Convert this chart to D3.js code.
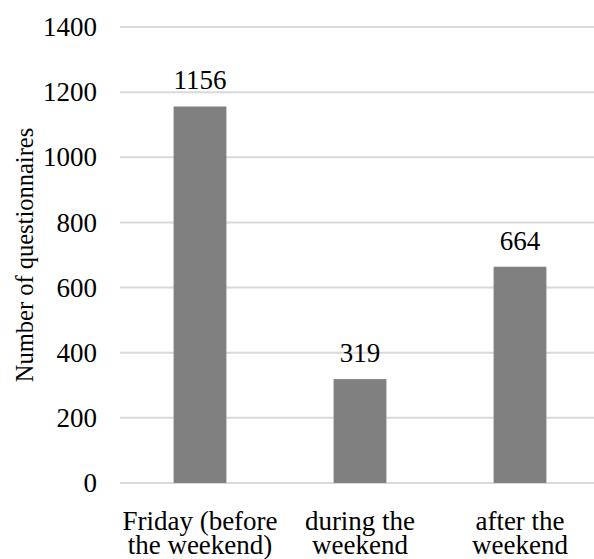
<!DOCTYPE html>
<html>
<head>
<meta charset="utf-8">
<script src="https://cdn.jsdelivr.net/npm/d3@7"></script>
</head>
<body style="margin:0; background:#fff">
<svg id="chart" width="594" height="559"></svg>
<script>
// Questionnaires returned, by timing relative to the weekend
const categories = [["Friday (before", "the weekend)"], ["during the", "weekend"], ["after the", "weekend"]];
const counts = [1156, 319, 664];
const yTicks = [0, 200, 400, 600, 800, 1000, 1200, 1400];

const fontFamily = '"Liberation Serif"';
const labelSize = "27px";
const svg = d3.select("#chart");
const plotLeft = 120, plotRight = 600, plotTop = 27, plotBottom = 483;

const x = d3.scaleBand()
  .domain(d3.range(counts.length))
  .range([plotLeft, plotRight])
  .paddingInner(0.67)
  .paddingOuter(0.335);

const y = d3.scaleLinear().domain([0, 1400]).range([plotBottom, plotTop]);

// horizontal gridlines
svg.append("g")
  .selectAll("line")
  .data(yTicks)
  .join("line")
  .attr("x1", plotLeft).attr("x2", 594)
  .attr("y1", d => y(d)).attr("y2", d => y(d))
  .attr("stroke", "#d9d9d9")
  .attr("stroke-width", 2);

// y tick labels
const yAxis = d3.axisLeft(y).tickValues(yTicks).tickFormat(d3.format("d")).tickSize(0).tickPadding(0);
const gy = svg.append("g").attr("transform", "translate(97,0)").call(yAxis);
gy.attr("font-family", null).attr("font-size", null);
gy.select(".domain").remove();
gy.selectAll("text")
  .style("font-family", fontFamily)
  .style("font-size", labelSize)
  .attr("fill", "#000")
  .attr("dy", "0.32em");

// bars
svg.append("g")
  .selectAll("rect")
  .data(counts)
  .join("rect")
  .attr("x", (d, i) => x(i))
  .attr("width", x.bandwidth())
  .attr("y", d => y(d))
  .attr("height", d => y(0) - y(d))
  .attr("fill", "#808080");

// value labels
svg.append("g")
  .selectAll("text")
  .data(counts)
  .join("text")
  .attr("x", (d, i) => x(i) + x.bandwidth() / 2)
  .attr("y", d => y(d) - 17)
  .attr("text-anchor", "middle")
  .style("font-family", fontFamily)
  .style("font-size", labelSize)
  .text(d => d);

// category labels (two lines each)
const cat = svg.append("g")
  .selectAll("text")
  .data(categories)
  .join("text")
  .attr("text-anchor", "middle")
  .style("font-family", fontFamily)
  .style("font-size", labelSize);
cat.selectAll("tspan")
  .data((d, i) => d.map(line => ({ line, i })))
  .join("tspan")
  .attr("x", d => x(d.i) + x.bandwidth() / 2)
  .attr("y", (d, j) => plotBottom + 47 + j * 24)
  .text(d => d.line);

// y axis title
svg.append("text")
  .attr("transform", `translate(33,${(plotTop + plotBottom) / 2}) rotate(-90)`)
  .attr("text-anchor", "middle")
  .style("font-family", fontFamily)
  .style("font-size", "24.5px")
  .text("Number of questionnaires");
</script>
</body>
</html>
